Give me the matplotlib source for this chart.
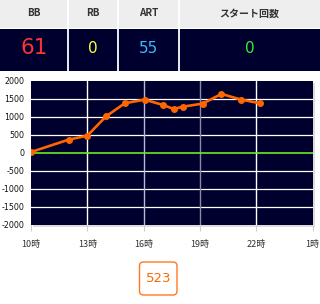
import matplotlib
matplotlib.use("Agg")
import matplotlib.pyplot as plt
from matplotlib.patches import Rectangle, FancyBboxPatch

plt.rcParams['font.family'] = ['Noto Sans CJK JP', 'DejaVu Sans']

# ---- data ----
header_labels = ["BB", "RB", "ART", "スタート回数"]
header_values = ["61", "0", "55", "0"]
value_colors = ["#ff3333", "#ffff33", "#33bbff", "#33ee33"]

hours = [10.0, 12.0, 13.0, 14.0, 15.0, 16.05, 17.05, 17.6, 18.1, 19.15, 20.15, 21.2, 22.2]
diff = [20, 365, 475, 1015, 1380, 1480, 1330, 1220, 1285, 1370, 1640, 1480, 1380]

x_tick_pos = [10, 13, 16, 19, 22, 25]
x_tick_labels = ["10時", "13時", "16時", "19時", "22時", "1時"]
y_tick_pos = [2000, 1500, 1000, 500, 0, -500, -1000, -1500, -2000]
y_tick_labels = ["2000", "1500", "1000", "500", "0", "-500", "-1000", "-1500", "-2000"]
total_games = "523"

W, H = 320, 304
fig = plt.figure(figsize=(W / 100, H / 100), dpi=100)
fig.patch.set_facecolor("white")

# overlay in pixel coords
ov = fig.add_axes([0, 0, 1, 1], zorder=0)
ov.set_xlim(0, W)
ov.set_ylim(H, 0)
ov.axis("off")

navy = "#00002e"
ov.add_patch(Rectangle((0, 0), W, 27.5, facecolor="#eeeeee", edgecolor="none"))
ov.add_patch(Rectangle((0, 28.5), W, 42, facecolor=navy, edgecolor="none"))
bounds = [0, 68.3, 117.7, 179.3, 320]
for b in bounds[1:-1]:
    ov.plot([b, b], [0, 70.5], color="white", lw=1.3, solid_capstyle="butt")
for i in range(4):
    cx = (bounds[i] + bounds[i + 1]) / 2
    ov.text(cx, 13.5, header_labels[i], ha="center", va="center",
            fontsize=7.2, fontweight="bold", color="#333333")
    fs = 15.5 if i == 0 else 11
    ov.text(cx, 48.5, header_values[i], ha="center", va="center",
            fontsize=fs, color=value_colors[i], family=["DejaVu Sans"])

# plot shadow
ov.add_patch(Rectangle((33, 83), 282, 144, facecolor="#dddddd", edgecolor="none"))

ax_left, ax_right, ax_top, ax_bot = 31, 312.5, 81, 224.5

ax = fig.add_axes([ax_left / W, 1 - ax_bot / H, (ax_right - ax_left) / W, (ax_bot - ax_top) / H], zorder=1)
ax.set_facecolor(navy)
ax.set_xlim(10, 25)
ax.set_ylim(-2000, 2000)
for s in ax.spines.values():
    s.set_visible(False)

for y in y_tick_pos:
    if y in (2000, -2000, 0):
        continue
    ax.axhline(y, color="white", lw=0.9, zorder=1)
vcols = {13: "white", 16: "#b8b8d8", 19: "#8a8aa8", 22: "white"}
for x, c in vcols.items():
    ax.axvline(x, color=c, lw=1.0, zorder=1)
ax.axhline(0, color="#66ee22", lw=1.2, zorder=2)

ax.plot(hours, diff, color="#ff6600", lw=1.9, marker="o", markersize=4, zorder=3)

ax.set_yticks(y_tick_pos)
ax.set_yticklabels(y_tick_labels, fontsize=5.7, color="#111111", family=["DejaVu Sans"])
ax.tick_params(axis="y", length=0, pad=5)
ax.set_xticks(x_tick_pos)
ax.set_xticklabels(x_tick_labels, fontsize=6.5, color="#333333")
ax.tick_params(axis="x", length=4, color="#cccccc", pad=7)

# 523 box
ov.add_patch(FancyBboxPatch((139.5, 262), 37.5, 33, boxstyle="round,pad=0,rounding_size=4",
                            facecolor="white", edgecolor="#ff7722", lw=1.0))
ov.text(158.2, 278.5, total_games, ha="center", va="center", fontsize=9.5,
        color="#ff6600", family=["DejaVu Sans"])

fig.savefig("out.png", dpi=100)
